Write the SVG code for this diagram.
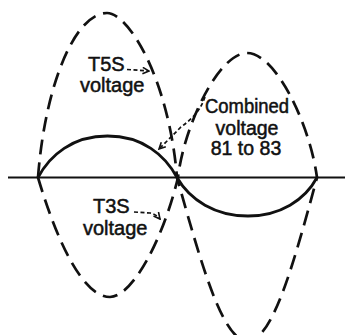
<svg xmlns="http://www.w3.org/2000/svg" width="345" height="335" viewBox="0 0 345 335">
<style>
.dash{fill:none;stroke:#111;stroke-width:2.7;stroke-dasharray:15 8;stroke-linecap:butt}
.solid{fill:none;stroke:#111;stroke-width:2.8;stroke-linecap:round}
.axis{fill:none;stroke:#111;stroke-width:1.8}
.ptr{fill:none;stroke:#111;stroke-width:1.7;stroke-dasharray:4 2.5;marker-end:url(#ah)}
.lbl{font-family:"Liberation Sans",Arial,sans-serif;font-size:20px;fill:#111;stroke:#111;stroke-width:0.5}
.lblr{font-family:"Liberation Sans",Arial,sans-serif;font-size:19.5px;fill:#111;stroke:#111;stroke-width:0.5;text-anchor:middle}
</style>
<defs>
<marker id="ah" viewBox="0 0 10 10" refX="9" refY="5" markerWidth="8" markerHeight="8" markerUnits="userSpaceOnUse" orient="auto">
<path d="M1,1 L9,5 L1,9" fill="none" stroke="#111" stroke-width="2"/>
</marker>
</defs>
<rect width="345" height="335" fill="#fff"/>
<g id="axis"><line class="axis" x1="8" y1="177.5" x2="345" y2="177.5"/></g>
<g id="curves">
<path id="t5s-curve" class="dash" d="M38,177.5 C45,85 75,13 107,13 C129,13 169,80 177,177.5 C201,263 222.5,341 247.5,341 C272.5,341 294,263 317,177.5"/>
<path id="t3s-curve" class="dash" d="M38,177.5 C58,245 84,297 110,297 C132,297 163,240 178,177.5 C184,125 219,53 247,53 C276,53 310,125 317,177.5"/>
<path id="combined-curve" class="solid" d="M38,177.5 C50,155 72.5,136 107.5,136 C142.5,136 165,155 177,177.5 C190,200 215,216 248,216 C280,216 305,200 317,177.5"/>
</g>
<g id="label-t5s">
<text class="lbl" x="88" y="71">T5S</text>
<text class="lbl" x="80" y="92">voltage</text>
</g>
<g id="label-t3s">
<text class="lbl" x="93" y="213">T3S</text>
<text class="lbl" x="83" y="235">voltage</text>
</g>
<g id="label-combined">
<text class="lblr" x="247" y="113" textLength="84" lengthAdjust="spacingAndGlyphs">Combined</text>
<text class="lblr" x="247" y="135">voltage</text>
<text class="lblr" x="246" y="155">81 to 83</text>
</g>
<g id="connectors">
<path class="ptr" d="M127,69.5 L149,71"/>
<path class="ptr" d="M134,212 L150,213 Q156,214 160,219"/>
<path class="ptr" d="M205,97 C201,108 196,116 181,127 L159,149"/>
</g>
</svg>
